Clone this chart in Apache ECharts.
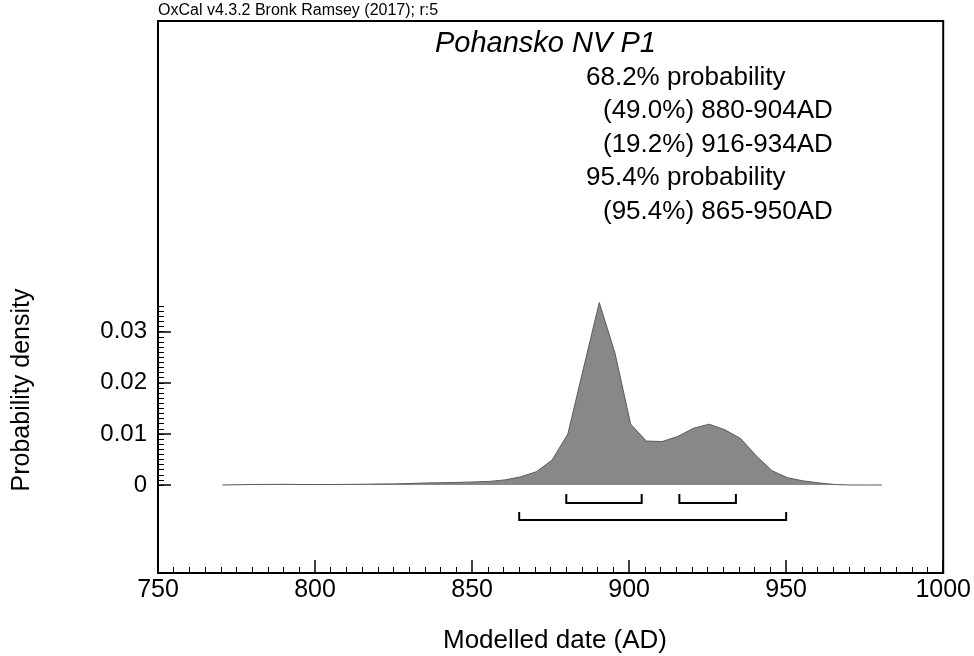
<!DOCTYPE html>
<html>
<head>
<meta charset="utf-8">
<script src="https://cdn.jsdelivr.net/npm/echarts@6/dist/echarts.min.js"></script>
<style>
html,body{margin:0;padding:0;background:#fff;}
#chart{width:974px;height:656px;}
</style>
</head>
<body>
<div id="chart"></div>
<script>
// ---- data ----
const years = [770.5,775.5,780.5,785.5,790.5,795.5,800.5,805.5,810.5,815.5,820.5,825.5,830.5,835.5,840.5,845.5,850.5,855.5,860.5,865.5,870.5,875.5,880.5,885.5,890.5,895.5,900.5,905.5,910.5,915.5,920.5,925.5,930.5,935.5,940.5,945.5,950.5,955.5,960.5,965.5,970.5,975.5,980.5];
const density = [0,0.00005,0.0001,0.00012,0.00013,0.0001,0.0001,0.0001,0.00012,0.00015,0.0002,0.00022,0.0003,0.0004,0.00045,0.0005,0.0006,0.0007,0.001,0.0016,0.0026,0.0049,0.0100,0.0229,0.0357,0.0258,0.0119,0.0086,0.0085,0.0095,0.0111,0.0119,0.0108,0.0091,0.0057,0.0028,0.0014,0.0008,0.0004,0.0001,0,0,0];
const rangeStarts = [880, 916, 865];
const rangeEnds = [904, 934, 950];
const rangeLevels = [0, 0, 1];
const yLabelValues = [0, 0.01, 0.02, 0.03];
const xTickLabels = [750, 800, 850, 900, 950, 1000];
const titleText = 'Pohansko NV P1';
const noteLines = ['68.2% probability', '(49.0%) 880-904AD', '(19.2%) 916-934AD', '95.4% probability', '(95.4%) 865-950AD'];
const headerText = 'OxCal v4.3.2 Bronk Ramsey (2017); r:5';

// ---- build ----
const FONT = '"Liberation Sans", Arial, sans-serif';
const minorY = [];
for (let i = 0; i <= 35; i++) minorY.push(+(i * 0.001).toFixed(3));

const chart = echarts.init(document.getElementById('chart'));
const graphics = [
  { type: 'text', left: 158, top: 3, style: { text: headerText, font: '16px ' + FONT, fill: '#000' } },
  { type: 'text', x: 22, y: 390, rotation: Math.PI / 2,
    style: { text: 'Probability density', font: '25px ' + FONT, fill: '#000', align: 'center', verticalAlign: 'middle' } },
  { type: 'text', x: 555, y: 641,
    style: { text: 'Modelled date (AD)', font: '26px ' + FONT, fill: '#000', align: 'center', verticalAlign: 'middle' } }
];
const lineIndent = [0, 1, 1, 0, 1];
const lineY = [78, 111, 145, 178, 212];
noteLines.forEach((t, i) => {
  graphics.push({ type: 'text', x: lineIndent[i] ? 603 : 586, y: lineY[i],
    style: { text: t, font: '26px ' + FONT, fill: '#000', verticalAlign: 'middle' } });
});

const option = {
  animation: false,
  backgroundColor: '#fff',
  title: {
    text: titleText, left: 435, top: 29, padding: 0,
    textStyle: { fontFamily: FONT, fontSize: 29, fontStyle: 'italic', fontWeight: 'normal', color: '#000' }
  },
  graphic: graphics,
  grid: { left: 158, top: 21, width: 790, height: 552, show: true, borderColor: '#000', borderWidth: 2, backgroundColor: 'transparent' },
  xAxis: {
    type: 'value', min: 750, max: 1000, interval: 50,
    axisLine: { onZero: false, lineStyle: { color: '#000', width: 2 } },
    axisTick: { inside: true, length: 13, lineStyle: { color: '#000', width: 1.5 } },
    minorTick: { show: true, splitNumber: 10, length: 6, lineStyle: { color: '#000', width: 1 } },
    axisLabel: { fontFamily: FONT, fontSize: 25, color: '#000', margin: 5,
      formatter: v => (xTickLabels.indexOf(v) >= 0 ? String(v) : '') },
    splitLine: { show: false }, minorSplitLine: { show: false }
  },
  yAxis: [
    {
      type: 'value', min: -0.01722, max: 0.0908,
      axisLine: { show: true, onZero: false, lineStyle: { color: '#000', width: 2 } },
      axisTick: { show: true, inside: true, length: 13, customValues: yLabelValues, lineStyle: { color: '#000', width: 1.5 } },
      axisLabel: { show: true, customValues: yLabelValues, fontFamily: FONT, fontSize: 24, color: '#000', margin: 11,
        formatter: v => (v === 0 ? '0' : v.toFixed(2)) },
      splitLine: { show: false }
    },
    {
      type: 'value', min: -0.01722, max: 0.0908, position: 'left',
      axisLine: { show: false },
      axisTick: { show: true, inside: true, length: 6, customValues: minorY, lineStyle: { color: '#000', width: 1 } },
      axisLabel: { show: false },
      splitLine: { show: false }
    }
  ],
  series: [
    {
      type: 'line', xAxisIndex: 0, yAxisIndex: 0, silent: true,
      data: years.map((y, i) => [y, density[i]]),
      symbol: 'none',
      lineStyle: { color: '#5a5a5a', width: 1 },
      areaStyle: { color: '#888888', opacity: 1 }
    },
    {
      type: 'custom', xAxisIndex: 0, yAxisIndex: 0, silent: true,
      data: rangeStarts.map((s, i) => [s, rangeEnds[i], rangeLevels[i]]),
      renderItem: function (params, api) {
        const p1 = api.coord([api.value(0), 0]);
        const p2 = api.coord([api.value(1), 0]);
        const lvl = api.value(2);
        const yy = p1[1] + (lvl ? 35 : 18);
        const tip = lvl ? 8 : 9;
        return {
          type: 'polyline',
          shape: { points: [[p1[0], yy - tip], [p1[0], yy], [p2[0], yy], [p2[0], yy - tip]] },
          style: { stroke: '#000', lineWidth: 2, fill: null }
        };
      }
    }
  ]
};
chart.setOption(option);
</script>
</body>
</html>
